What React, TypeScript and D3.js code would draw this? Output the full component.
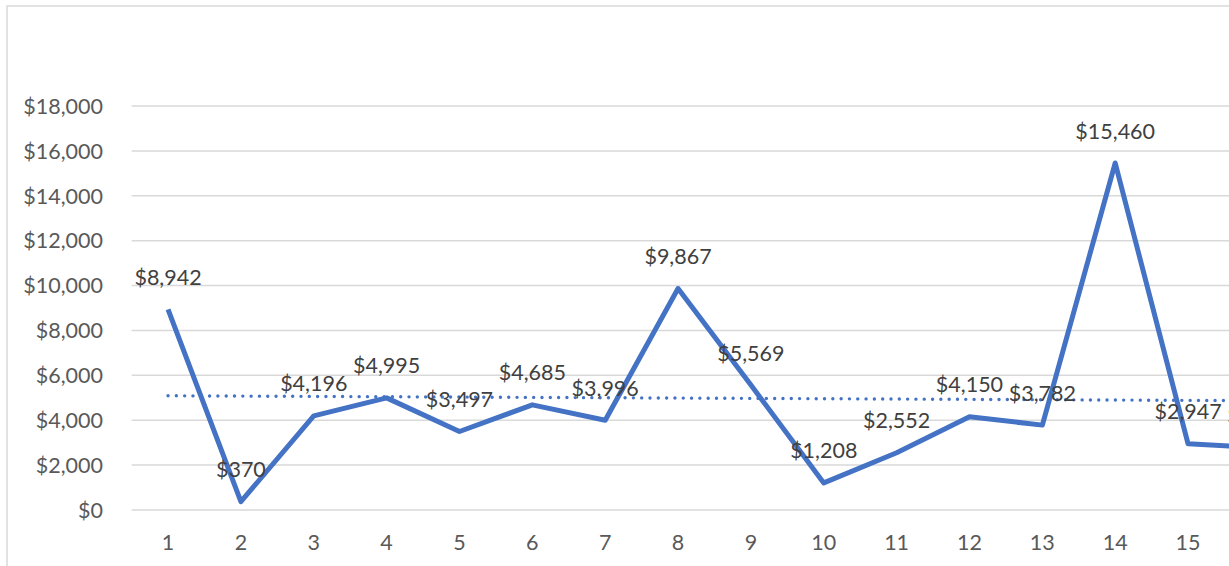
import React from "react";
import * as d3 from "d3";

// category numbers on the x axis
const categories = [1, 2, 3, 4, 5, 6, 7, 8, 9, 10, 11, 12, 13, 14, 15, 16];
// monthly amounts (last one is cut off at the right edge of the picture)
const values = [8942, 370, 4196, 4995, 3497, 4685, 3996, 9867, 5569, 1208, 2552, 4150, 3782, 15460, 2947, 2780];
const yTicks = [0, 2000, 4000, 6000, 8000, 10000, 12000, 14000, 16000, 18000];
// linear trendline values at the first and last category
const trendEnds = [5090, 4870];

const W = 1229;
const H = 566;
const FONT = "Lato, 'Open Sans', sans-serif";
const FS = 21.5;

export default function App() {
  const plotLeft = 131.6;
  const step = 72.86;
  const x = d3
    .scaleBand<number>()
    .domain(categories)
    .range([plotLeft, plotLeft + step * categories.length]);
  const cx = (c: number) => (x(c) ?? 0) + x.bandwidth() / 2;
  const y = d3.scaleLinear().domain([0, 18000]).range([510, 106]);

  const money = (v: number) => "$" + d3.format(",")(v);

  const line = d3
    .line<number>()
    .x((_, i) => cx(categories[i]))
    .y((d) => y(d));

  const first = categories[0];
  const last = categories[categories.length - 1];
  const plotRight = plotLeft + step * categories.length;

  return (
    <div style={{ position: "fixed", left: 0, top: 0, width: W, height: H, overflow: "hidden", background: "#fff" }}>
      <svg width={W} height={H} style={{ display: "block", fontFamily: FONT }}>
        {/* chart area border */}
        <rect x={7} y={6} width={1500} height={700} fill="#fff" stroke="#d9d9d9" strokeWidth={1.5} />

        {/* gridlines */}
        {yTicks.map((t) => (
          <line key={t} x1={plotLeft} x2={plotRight} y1={y(t)} y2={y(t)} stroke="#d9d9d9" strokeWidth={1.5} />
        ))}

        {/* y tick labels */}
        {yTicks.map((t) => (
          <text key={"l" + t} x={103} y={y(t) + 7.8} textAnchor="end" fontSize={FS} fill="#595959">
            {money(t)}
          </text>
        ))}

        {/* x tick labels */}
        {categories.map((c) => (
          <text key={"x" + c} x={cx(c)} y={550} textAnchor="middle" fontSize={FS} fill="#595959">
            {c}
          </text>
        ))}

        {/* data line */}
        <path d={line(values) ?? ""} fill="none" stroke="#4472C4" strokeWidth={5} strokeLinejoin="round" />

        {/* linear trendline */}
        <line
          x1={cx(first)}
          x2={cx(last)}
          y1={y(trendEnds[0])}
          y2={y(trendEnds[1])}
          stroke="#4472C4"
          strokeWidth={3.4}
          strokeLinecap="round"
          strokeDasharray="0.01 8.3"
        />

        {/* data labels */}
        {values.map((v, i) => (
          <text key={"d" + i} x={cx(categories[i])} y={y(v) - 24.5} textAnchor="middle" fontSize={FS} fill="#404040">
            {money(v)}
          </text>
        ))}
      </svg>
    </div>
  );
}
